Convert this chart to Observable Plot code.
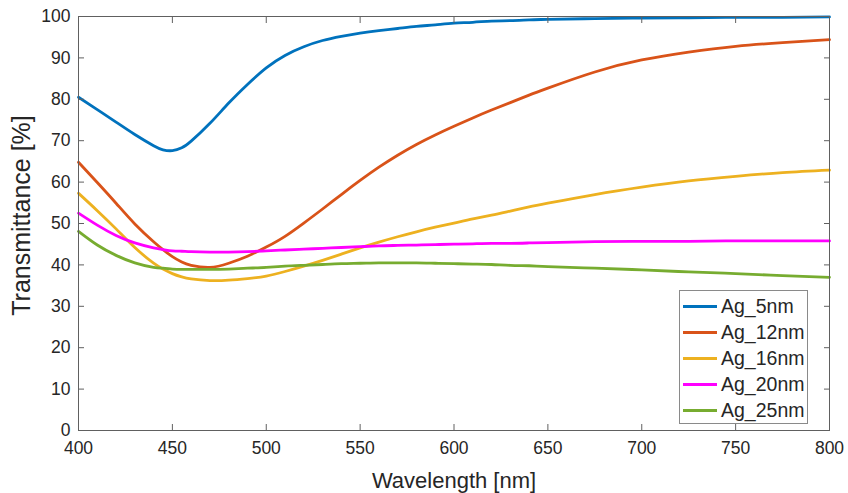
<!DOCTYPE html>
<html><head><meta charset="utf-8">
<script src="https://cdn.jsdelivr.net/npm/d3@7"></script>
<script src="https://cdn.jsdelivr.net/npm/@observablehq/plot@0.6"></script>
<style>
body{margin:0;background:#fff;}
#wrap{position:relative;width:848px;height:493px;font-family:"Liberation Sans",Arial,Helvetica,sans-serif;}
#legend{position:absolute;left:679px;top:290px;width:129px;height:134px;border:1px solid #8a8a8a;background:#fff;box-sizing:border-box;}
.item{position:absolute;left:0;height:26px;display:flex;align-items:center;white-space:nowrap;}
.sw{width:34px;height:3px;margin-left:3px;margin-right:4px;}
.lab{font-size:19.5px;color:#262626;line-height:26px;}
</style></head><body><div id="wrap"></div>
<script>
// wavelengths (nm)
const wavelength = [400,410,420,430,440,445,450,455,460,470,480,490,500,510,520,530,540,550,560,570,580,590,600,610,620,630,640,650,675,700,725,750,775,800];
const seriesNames = ["Ag_5nm","Ag_12nm","Ag_16nm","Ag_20nm","Ag_25nm"];
const seriesColors = ["#0072BD","#D95319","#EDB120","#FF00FF","#77AC30"];
const ag5  = [80.5,77.5,74.5,71.5,68.8, 67.8,67.6,68.3,69.9, 74.2,79.1,83.6,87.6,90.6,92.7,94.2,95.2,96.0,96.6,97.1,97.6,98.0,98.4,98.6,98.9,99.0,99.2,99.3, 99.5,99.6,99.7,99.8,99.8,99.9];
const ag12 = [64.8,59.9,54.9,49.9,45.6, 43.7,42.0,40.7,39.9, 39.4,40.4,42.1,44.3,46.9,50.1,53.5,57.0,60.4,63.6,66.5,69.1,71.4,73.5,75.5,77.4,79.2,81.0,82.7, 86.6,89.5,91.4,92.8,93.7,94.4];
const ag16 = [57.3,53.1,48.7,44.2,40.4, 39.0,37.9,37.1,36.6, 36.2,36.3,36.7,37.3,38.4,39.7,41.1,42.6,44.1,45.5,46.8,48.0,49.1,50.1,51.1,52.0,53.0,54.0,54.9, 57.0,58.8,60.3,61.4,62.3,62.9];
const ag20 = [52.5,49.6,47.1,45.3,44.1, 43.7,43.4,43.3,43.2, 43.1,43.1,43.2,43.4,43.6,43.8,44.0,44.2,44.4,44.6,44.7,44.8,44.9,45.0,45.1,45.2,45.2,45.3,45.4, 45.6,45.7,45.7,45.8,45.8,45.8];
const ag25 = [48.1,44.8,42.3,40.5,39.4, 39.2,39.0,38.9,38.9, 38.9,39.0,39.2,39.4,39.7,39.9,40.1,40.3,40.4,40.5,40.5,40.5,40.4,40.3,40.2,40.1,39.9,39.8,39.6, 39.2,38.8,38.3,37.9,37.4,37.0];
const xTicks = [400,450,500,550,600,650,700,750,800];
const yTicks = [0,10,20,30,40,50,60,70,80,90,100];
const xLabel = "Wavelength [nm]";
const yLabel = "Transmittance [%]";

const allSeries = [ag5, ag12, ag16, ag20, ag25];
const rows = [];
allSeries.forEach((vals, s) => vals.forEach((v, i) => rows.push({wl: wavelength[i], T: v, series: seriesNames[s]})));

const axisColor = "#606060";
const textColor = "#262626";
const font = "'Liberation Sans', Arial, Helvetica, sans-serif";

const chart = Plot.plot({
  width: 848, height: 493,
  marginLeft: 78, marginRight: 19, marginTop: 16, marginBottom: 63,
  style: {fontFamily: font, fontSize: "17px", color: textColor, background: "#fff", overflow: "visible"},
  x: {domain: [400, 800]},
  y: {domain: [0, 100]},
  color: {domain: seriesNames, range: seriesColors},
  marks: [
    Plot.line(rows, {x: "wl", y: "T", z: "series", stroke: "series", strokeWidth: 2.8, curve: "natural"}),
    Plot.frame({stroke: axisColor, strokeWidth: 1}),
    Plot.axisX({anchor: "bottom", ticks: xTicks, tickSize: -6, tickPadding: 17, stroke: axisColor, fill: textColor, label: null, fontSize: 17.5}),
    Plot.axisX({anchor: "top", ticks: xTicks, tickSize: -6, tickFormat: () => "", stroke: axisColor, label: null}),
    Plot.axisY({anchor: "left", ticks: yTicks, tickSize: -6, tickPadding: 14, stroke: axisColor, fill: textColor, label: null, fontSize: 17.5}),
    Plot.axisY({anchor: "right", ticks: yTicks, tickSize: -6, tickFormat: () => "", stroke: axisColor, label: null}),
    Plot.text([xLabel], {frameAnchor: "bottom", dy: 50.5, text: d => d, textAnchor: "middle", lineAnchor: "middle", fontSize: 22, fill: textColor}),
    Plot.text([yLabel], {frameAnchor: "left", dx: -57, dy: -8, text: d => d, textAnchor: "middle", lineAnchor: "middle", rotate: -90, fontSize: 25, fill: textColor})
  ]
});

const wrap = document.getElementById("wrap");
wrap.appendChild(chart);

const legend = document.createElement("div");
legend.id = "legend";
seriesNames.forEach((name, i) => {
  const item = document.createElement("div");
  item.className = "item";
  item.style.top = (2 + i * 26) + "px";
  const sw = document.createElement("span");
  sw.className = "sw";
  sw.style.background = seriesColors[i];
  const lab = document.createElement("span");
  lab.className = "lab";
  lab.textContent = name;
  item.appendChild(sw); item.appendChild(lab);
  legend.appendChild(item);
});
wrap.appendChild(legend);
</script></body></html>
